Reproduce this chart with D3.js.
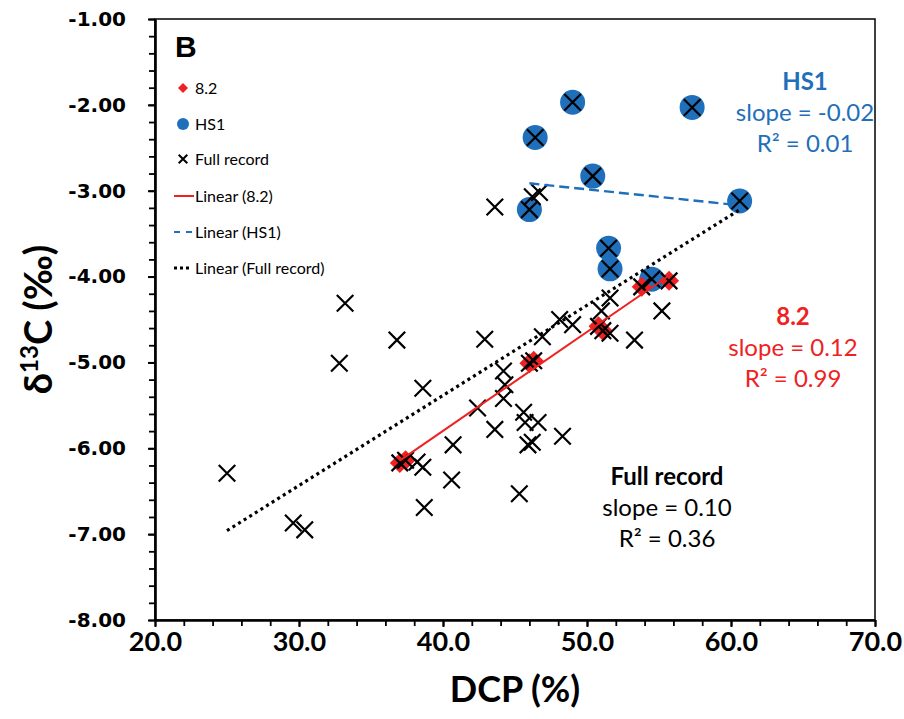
<!DOCTYPE html>
<html>
<head>
<meta charset="utf-8">
<script src="https://cdn.jsdelivr.net/npm/d3@7"></script>
<style>
  html, body { margin: 0; padding: 0; background: #fff; }
  svg { display: block; }
</style>
</head>
<body>
<svg id="chart" width="904" height="719"></svg>
<script>
// Axis ticks
const dcpTicks = [20, 30, 40, 50, 60, 70];
const dcpMinorTicks = d3.range(20, 70.01, 2);
const d13cTicks = [-1, -2, -3, -4, -5, -6, -7, -8];
const d13cMinorTicks = d3.range(-8, -0.99, 0.2);

// 8.2 ka event samples
const event82DCP  = [37.0, 37.4, 46.0, 46.3, 50.8, 51.1, 53.8, 55.7];
const event82D13C = [-6.17, -6.14, -5.01, -4.98, -4.58, -4.63, -4.12, -4.05];

// Heinrich Stadial 1 samples
const hs1DCP  = [46.0, 46.4, 49.0, 50.4, 51.5, 51.6, 54.5, 57.3, 60.6];
const hs1D13C = [-3.22, -2.38, -1.97, -2.83, -3.67, -3.91, -4.03, -2.03, -3.12];

// Full record (includes the 8.2 and HS1 samples)
const fullDCP = [
  46.0, 46.4, 49.0, 50.4, 51.5, 51.6, 54.5, 57.3, 60.6,
  37.0, 37.4, 46.0, 46.3, 50.8, 51.1, 53.8, 55.7,
  25.0, 29.6, 30.4, 32.8, 33.2, 36.8, 38.2, 38.6, 38.7, 38.6,
  40.6, 40.7, 42.4, 42.9, 43.6, 43.6, 44.2, 44.3, 44.2, 45.3,
  45.6, 45.7, 46.6, 45.9, 46.2, 48.3, 46.9, 48.1, 49.0, 51.6,
  51.0, 51.6, 53.3, 55.2, 46.2, 46.7
];
const fullD13C = [
  -3.22, -2.38, -1.97, -2.83, -3.67, -3.91, -4.03, -2.03, -3.12,
  -6.17, -6.14, -5.01, -4.98, -4.58, -4.63, -4.12, -4.05,
  -6.29, -6.87, -6.95, -5.01, -4.31, -4.74, -6.16, -6.22, -6.69, -5.30,
  -6.37, -5.96, -5.53, -4.73, -5.78, -3.19, -5.10, -5.26, -5.42, -6.53,
  -5.58, -5.70, -5.70, -5.96, -5.93, -5.86, -4.70, -4.50, -4.56, -4.66,
  -4.40, -4.25, -4.74, -4.40, -3.07, -3.02
];

// Regression statistics shown as text
const hs1Stats  = ["HS1", "slope = -0.02", "R² = 0.01"];
const ev82Stats = ["8.2", "slope = 0.12", "R² = 0.99"];
const fullStats = ["Full record", "slope = 0.10", "R² = 0.36"];

const legendLabels = ["8.2", "HS1", "Full record", "Linear (8.2)", "Linear (HS1)", "Linear (Full record)"];

const BLUE = "#1f6fba";
const RED = "#ee2222";

const svg = d3.select("#chart");
const plotL = 155, plotR = 875, plotT = 19, plotB = 620;

const x = d3.scaleLinear().domain([20, 70]).range([plotL, plotR]);
const y = d3.scaleLinear().domain([-8, -1]).range([plotB, plotT]);

const loc = d3.formatLocale({decimal: ".", thousands: ",", grouping: [3], currency: ["", ""], minus: "-"});

// Plot frame
svg.append("rect")
  .attr("x", plotL).attr("y", plotT)
  .attr("width", plotR - plotL).attr("height", plotB - plotT)
  .attr("fill", "none").attr("stroke", "#000").attr("stroke-width", 1.5);

// Minor ticks
svg.append("g").attr("transform", `translate(0,${plotB})`)
  .call(d3.axisBottom(x).tickValues(dcpMinorTicks).tickSize(6).tickSizeOuter(0).tickFormat(""))
  .call(g => g.select(".domain").remove())
  .call(g => g.selectAll("line").attr("stroke-width", 1.8));
svg.append("g").attr("transform", `translate(${plotL},0)`)
  .call(d3.axisLeft(y).tickValues(d13cMinorTicks).tickSize(6).tickSizeOuter(0).tickFormat(""))
  .call(g => g.select(".domain").remove())
  .call(g => g.selectAll("line").attr("stroke-width", 1.8));

// Major axes
const xAxis = svg.append("g").attr("transform", `translate(0,${plotB})`)
  .call(d3.axisBottom(x).tickValues(dcpTicks).tickSize(7).tickSizeOuter(0).tickPadding(5)
    .tickFormat(loc.format(".1f")));
xAxis.select(".domain").attr("stroke-width", 2.6);
xAxis.selectAll("line").attr("stroke-width", 2);
xAxis.selectAll("text")
  .attr("font-family", "Lato, sans-serif").attr("font-weight", "bold")
  .attr("font-size", 27).attr("fill", "#000");

const yAxis = svg.append("g").attr("transform", `translate(${plotL},0)`)
  .call(d3.axisLeft(y).tickValues(d13cTicks).tickSize(7).tickSizeOuter(0).tickPadding(22)
    .tickFormat(loc.format(".2f")));
yAxis.select(".domain").attr("stroke-width", 2.6);
yAxis.selectAll("line").attr("stroke-width", 2);
yAxis.selectAll("text")
  .attr("font-family", "'DejaVu Sans', sans-serif").attr("font-weight", "bold")
  .attr("font-size", 20).attr("fill", "#000");

// Axis titles
svg.append("text")
  .attr("x", (plotL + plotR) / 2).attr("y", 702)
  .attr("text-anchor", "middle")
  .attr("font-family", "Lato, sans-serif").attr("font-weight", "bold").attr("font-size", 36)
  .text("DCP (%)");

const yTitle = svg.append("text")
  .attr("transform", `translate(52,${(plotT + plotB) / 2}) rotate(-90)`)
  .attr("text-anchor", "middle")
  .attr("font-family", "Lato, sans-serif").attr("font-weight", "bold").attr("font-size", 38);
yTitle.append("tspan").text("δ");
yTitle.append("tspan").attr("font-size", 24).attr("dy", -14).text("13");
yTitle.append("tspan").attr("dy", 14).text("C (‰)");

// Panel letter
svg.append("text")
  .attr("x", 175).attr("y", 57)
  .attr("font-family", "'Liberation Sans', Arial, sans-serif").attr("font-weight", "bold").attr("font-size", 30)
  .text("B");

// Markers
const zip = (xs, ys) => xs.map((v, i) => ({x: v, y: ys[i]}));
const hs1 = zip(hs1DCP, hs1D13C);
const ev82 = zip(event82DCP, event82D13C);
const full = zip(fullDCP, fullD13C);

svg.append("g").selectAll("circle").data(hs1).join("circle")
  .attr("cx", d => x(d.x)).attr("cy", d => y(d.y)).attr("r", 12.5)
  .attr("fill", BLUE);

const diamond = d3.symbol(d3.symbolSquare, 200);
svg.append("g").selectAll("path").data(ev82).join("path")
  .attr("d", diamond)
  .attr("transform", d => `translate(${x(d.x)},${y(d.y)}) rotate(45)`)
  .attr("fill", RED);

const cross = d3.symbol(d3.symbolX, 180);
svg.append("g").selectAll("path").data(full).join("path")
  .attr("d", cross)
  .attr("transform", d => `translate(${x(d.x)},${y(d.y)})`)
  .attr("fill", "none").attr("stroke", "#000").attr("stroke-width", 2.2);

// Least-squares trendlines
function fit(pts) {
  const mx = d3.mean(pts, d => d.x), my = d3.mean(pts, d => d.y);
  const sxy = d3.sum(pts, d => (d.x - mx) * (d.y - my));
  const sxx = d3.sum(pts, d => (d.x - mx) ** 2);
  const b = sxy / sxx, a = my - b * mx;
  const [x0, x1] = d3.extent(pts, d => d.x);
  return [{x: x0, y: a + b * x0}, {x: x1, y: a + b * x1}];
}
const line = d3.line().x(d => x(d.x)).y(d => y(d.y));

svg.append("path").datum(fit(full)).attr("d", line)
  .attr("fill", "none").attr("stroke", "#000").attr("stroke-width", 3.2)
  .attr("stroke-dasharray", "3,3.6");
svg.append("path").datum(fit(hs1)).attr("d", line)
  .attr("fill", "none").attr("stroke", BLUE).attr("stroke-width", 2.4)
  .attr("stroke-dasharray", "10,5");
svg.append("path").datum(fit(ev82)).attr("d", line)
  .attr("fill", "none").attr("stroke", RED).attr("stroke-width", 2);

// Legend
const legend = svg.append("g").attr("font-family", "Lato, sans-serif").attr("font-size", 16);
const legY = [88, 124, 159, 196, 232, 268];
legend.append("path").attr("d", d3.symbol(d3.symbolSquare, 50))
  .attr("transform", `translate(183,${legY[0]}) rotate(45)`).attr("fill", RED);
legend.append("circle").attr("cx", 183).attr("cy", legY[1]).attr("r", 6).attr("fill", BLUE);
legend.append("path").attr("d", d3.symbol(d3.symbolX, 50))
  .attr("transform", `translate(183,${legY[2]})`)
  .attr("fill", "none").attr("stroke", "#000").attr("stroke-width", 2);
legend.append("line").attr("x1", 174).attr("x2", 194).attr("y1", legY[3]).attr("y2", legY[3])
  .attr("stroke", RED).attr("stroke-width", 2);
legend.append("line").attr("x1", 174).attr("x2", 194).attr("y1", legY[4]).attr("y2", legY[4])
  .attr("stroke", BLUE).attr("stroke-width", 2.2).attr("stroke-dasharray", "6,6");
legend.append("line").attr("x1", 174).attr("x2", 190).attr("y1", legY[5]).attr("y2", legY[5])
  .attr("stroke", "#000").attr("stroke-width", 3).attr("stroke-dasharray", "3,3");
legend.selectAll("text.lab").data(legendLabels).join("text")
  .attr("class", "lab")
  .attr("x", 195).attr("y", (d, i) => legY[i]).attr("dy", "0.35em")
  .text(d => d);

// Regression annotations
function statBlock(lines, cx, y0, color) {
  const g = svg.append("g").attr("font-family", "Lato, sans-serif").attr("font-size", 24)
    .attr("fill", color).attr("text-anchor", "middle");
  g.selectAll("text").data(lines).join("text")
    .attr("x", cx).attr("y", (d, i) => y0 + i * 31)
    .attr("font-weight", (d, i) => i === 0 ? "bold" : "normal")
    .text(d => d);
}
statBlock(hs1Stats, 805, 90, BLUE);
statBlock(ev82Stats, 793, 325, RED);
statBlock(fullStats, 667, 485, "#000");
</script>
</body>
</html>
